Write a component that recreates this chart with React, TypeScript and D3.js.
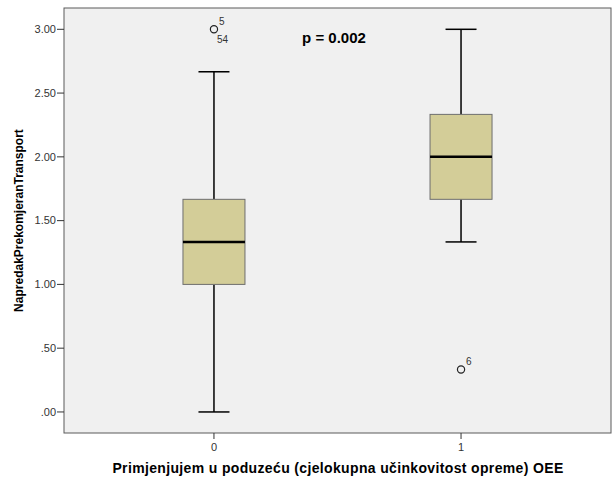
import React from "react";
import * as d3 from "d3";

const categories = ["0", "1"];
const whiskerLow = [0.0, 1.333];
const q1 = [1.0, 1.667];
const median = [1.333, 2.0];
const q3 = [1.667, 2.333];
const whiskerHigh = [2.667, 3.0];
const outlierCats = ["0", "1"];
const outlierValues = [3.0, 0.333];
const outlierLabels = [["5", "54"], ["6"]];
const yTicks = [0, 0.5, 1, 1.5, 2, 2.5, 3];
const pText = "p = 0.002";
const xTitle = "Primjenjujem u poduzeću (cjelokupna učinkovitost opreme) OEE";
const yTitle = "NapredakPrekomjeranTransport";

const W = 612;
const H = 485;
const L = 64, R = 611, T = 8, B = 433;
const FONT = "'Liberation Sans', Arial, sans-serif";

export default function App() {
  const y = d3.scaleLinear().domain([-0.165, 3.167]).range([B, T]);
  const x = d3.scalePoint<string>().domain(categories).range([L, R]).padding(0.607);
  const fmt = (v: number) => d3.format(".2f")(v).replace(/^0\./, ".");
  const boxW = 62;
  const capW = 31;

  return (
    <svg width={W} height={H} style={{ position: "absolute", left: 0, top: 0, background: "#fff" }} fontFamily={FONT}>
      <rect x={L} y={T} width={R - L} height={B - T} fill="#f0f0f0" stroke="#5a5a5a" strokeWidth={1} />
      {yTicks.map((t) => (
        <g key={t}>
          <line x1={L - 7} x2={L} y1={y(t)} y2={y(t)} stroke="#333" strokeWidth={1} />
          <text x={L - 8} y={y(t)} dy="0.35em" textAnchor="end" fontSize={11} fill="#333">{fmt(t)}</text>
        </g>
      ))}
      {categories.map((c) => (
        <g key={"xt" + c}>
          <line x1={x(c)} x2={x(c)} y1={B} y2={B + 6} stroke="#333" strokeWidth={1} />
          <text x={x(c)} y={B + 14} dy="0.35em" textAnchor="middle" fontSize={11} fill="#333">{c}</text>
        </g>
      ))}
      {categories.map((c, i) => {
        const cx = x(c) as number;
        return (
          <g key={"box" + c}>
            <line x1={cx} x2={cx} y1={y(whiskerLow[i])} y2={y(q1[i])} stroke="#000" strokeWidth={1.5} />
            <line x1={cx} x2={cx} y1={y(q3[i])} y2={y(whiskerHigh[i])} stroke="#000" strokeWidth={1.5} />
            <line x1={cx - capW / 2} x2={cx + capW / 2} y1={y(whiskerLow[i])} y2={y(whiskerLow[i])} stroke="#000" strokeWidth={1.5} />
            <line x1={cx - capW / 2} x2={cx + capW / 2} y1={y(whiskerHigh[i])} y2={y(whiskerHigh[i])} stroke="#000" strokeWidth={1.5} />
            <rect x={cx - boxW / 2} y={y(q3[i])} width={boxW} height={y(q1[i]) - y(q3[i])} fill="#d3cd98" stroke="#6e6e6e" strokeWidth={1} />
            <line x1={cx - boxW / 2} x2={cx + boxW / 2} y1={y(median[i])} y2={y(median[i])} stroke="#000" strokeWidth={2.5} />
          </g>
        );
      })}
      {outlierValues.map((v, i) => {
        const cx = x(outlierCats[i]) as number;
        const cy = y(v);
        const labs = outlierLabels[i];
        return (
          <g key={"o" + i}>
            <circle cx={cx} cy={cy} r={3.6} fill="none" stroke="#222" strokeWidth={1.2} />
            <text x={cx + 5} y={cy - 4} fontSize={10} fill="#333">{labs[0]}</text>
            {labs[1] && <text x={cx + 3} y={cy + 14} fontSize={10} fill="#333">{labs[1]}</text>}
          </g>
        );
      })}
      <text x={334} y={38} dy="0.35em" textAnchor="middle" fontSize={15} fontWeight="bold" fill="#000">{pText}</text>
      <text x={338} y={473} textAnchor="middle" fontSize={14} letterSpacing={0.35} fontWeight="bold" fill="#000">{xTitle}</text>
      <text transform={`translate(23,${(T + B) / 2}) rotate(-90)`} textAnchor="middle" fontSize={12} fontWeight="bold" fill="#000">{yTitle}</text>
    </svg>
  );
}
